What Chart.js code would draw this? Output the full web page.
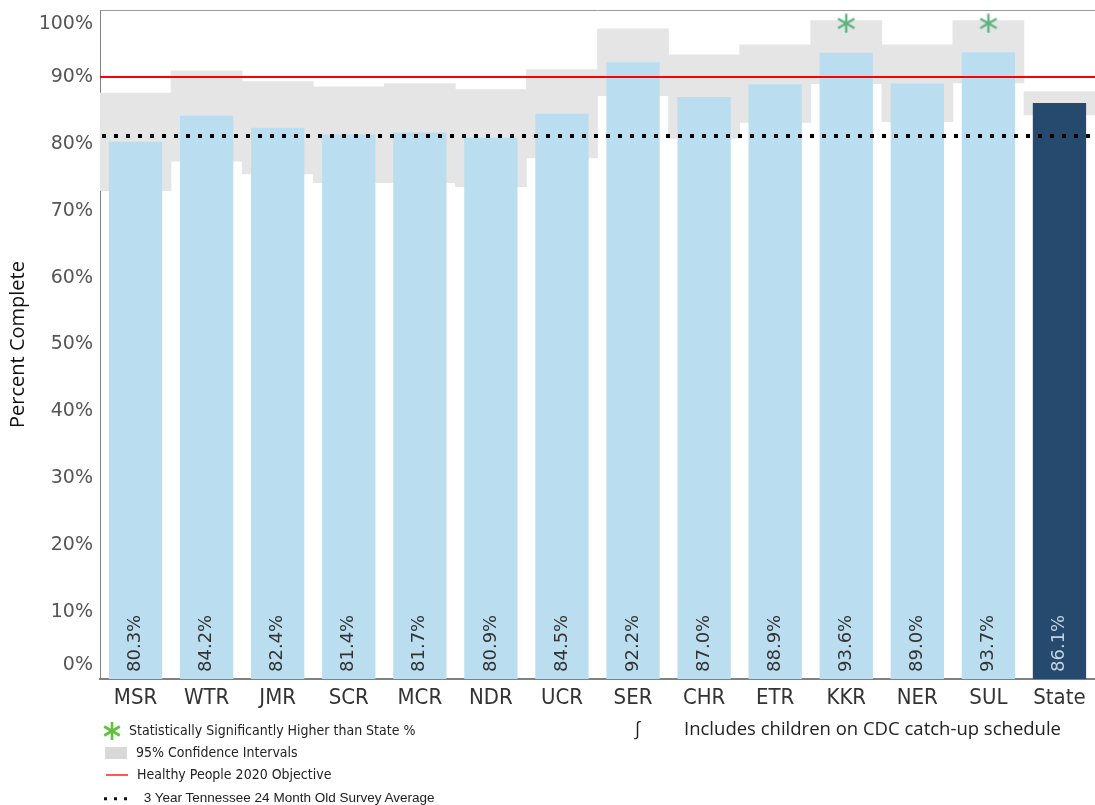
<!DOCTYPE html>
<html>
<head>
<meta charset="utf-8">
<script src="https://cdn.jsdelivr.net/npm/chart.js@4.4.1/dist/chart.umd.min.js"></script>
<style>
  html, body { margin: 0; padding: 0; background: #fff; overflow: hidden; }
  #wrap { position: relative; width: 1095px; height: 805px; overflow: hidden; }
  #c { position: absolute; left: 0; top: 0; }
  .leg { position: absolute; white-space: nowrap; line-height: 1; color: #222; transform: translateY(-50%);
         font-family: 'Liberation Sans Narrow', 'DejaVu Sans Condensed', sans-serif; font-size: 14px; }
  .note { position: absolute; top: 727px; transform: translateY(-50%); white-space: nowrap;
          font-family: 'Open Sans', sans-serif; font-size: 18.5px; color: #222; }
  .dot { display: inline-block; width: 3px; height: 3px; background: #111; margin-right: 7px; vertical-align: middle; }
</style>
</head>
<body>
<div id="wrap">
  <canvas id="c" width="1095" height="805"></canvas>

  <div class="leg" style="left:103px; top:731px;">
    <svg width="18" height="18" viewBox="0 0 18 18" style="vertical-align:middle">
      <g stroke="#5fc23a" stroke-width="2.6"><line x1="9" y1="0" x2="9" y2="18"/><line x1="1.2" y1="4.5" x2="16.8" y2="13.5"/><line x1="1.2" y1="13.5" x2="16.8" y2="4.5"/></g>
    </svg>
    <span style="margin-left:4px">Statistically Significantly Higher than State %</span>
  </div>
  <div class="leg" style="left:105px; top:752px;">
    <span style="display:inline-block;width:22px;height:12px;background:#d9d9d9;vertical-align:middle"></span>
    <span style="margin-left:5px">95% Confidence Intervals</span>
  </div>
  <div class="leg" style="left:106px; top:774px;">
    <span style="display:inline-block;width:22px;height:2px;background:#ff5a5a;vertical-align:middle"></span>
    <span style="margin-left:5px">Healthy People 2020 Objective</span>
  </div>
  <div class="leg" style="left:104px; top:798px; font-family:'Liberation Sans', Arial, sans-serif; font-size:13.5px;">
    <span class="dot"></span><span class="dot"></span><span class="dot"></span>
    <span style="margin-left:6px">3 Year Tennessee 24 Month Old Survey Average</span>
  </div>
  <div class="note" style="left:634px;">&#8747;</div>
  <div class="note" style="left:684px;">Includes children on CDC catch-up schedule</div>
</div>

<script>
// regions
const categories = ['MSR', 'WTR', 'JMR', 'SCR', 'MCR', 'NDR', 'UCR', 'SER', 'CHR', 'ETR', 'KKR', 'NER', 'SUL', 'State'];
const percentComplete = [80.3, 84.2, 82.4, 81.4, 81.7, 80.9, 84.5, 92.2, 87.0, 88.9, 93.6, 89.0, 93.7, 86.1];
// 95% CI bounds
const ciLow  = [73.0, 77.4, 75.5, 74.2, 74.2, 73.6, 77.9, 87.2, 80.8, 83.2, 89.0, 83.3, 89.1, 84.3];
const ciHigh = [87.6, 90.9, 89.3, 88.5, 89.0, 88.1, 91.1, 97.2, 93.3, 94.8, 98.4, 94.8, 98.4, 87.8];
// significance markers (asterisk above bar)
const sigMarks = [null, null, null, null, null, null, null, null, null, null, 98.0, null, 98.0, null];
const healthyPeople2020 = 90;
const surveyAverage = 81.2;
const yTicks = [0, 10, 20, 30, 40, 50, 60, 70, 80, 90, 100];

const barColors = categories.map(c => c === 'State' ? '#254a6e' : '#badef0');
const labelColors = categories.map(c => c === 'State' ? '#c3d2e2' : '#333333');

function asteriskImg(color, size, lw) {
    const cv = document.createElement('canvas');
    cv.width = cv.height = size;
    const g = cv.getContext('2d');
    g.strokeStyle = color;
    g.lineWidth = lw;
    const r = size / 2 - 0.5, m = size / 2;
    for (let k = 0; k < 3; k++) {
        const a = Math.PI / 2 + k * Math.PI / 3;
        g.beginPath();
        g.moveTo(m + r * Math.cos(a), m + r * Math.sin(a));
        g.lineTo(m - r * Math.cos(a), m - r * Math.sin(a));
        g.stroke();
    }
    return cv;
}

const overlay = {
    id: 'overlay',
    afterDatasetsDraw(chart) {
        const { ctx, chartArea: a, scales: { y } } = chart;
        ctx.save();
        // Healthy People 2020 objective
        const yr = y.getPixelForValue(healthyPeople2020);
        ctx.strokeStyle = '#ff0000';
        ctx.lineWidth = 2;
        ctx.beginPath(); ctx.moveTo(a.left, yr); ctx.lineTo(a.right, yr); ctx.stroke();
        // 3 year survey average
        const yd = Math.round(y.getPixelForValue(surveyAverage));
        ctx.strokeStyle = '#000';
        ctx.lineWidth = 4;
        ctx.setLineDash([4, 8]);
        ctx.beginPath(); ctx.moveTo(a.left + 2, yd); ctx.lineTo(a.right, yd); ctx.stroke();
        ctx.setLineDash([]);
        // value labels inside bars
        const meta = chart.getDatasetMeta(1);
        ctx.font = '18px "DejaVu Sans", Verdana, sans-serif';
        ctx.textAlign = 'left';
        ctx.textBaseline = 'middle';
        meta.data.forEach((bar, i) => {
            ctx.save();
            ctx.translate(bar.x, a.bottom - 7);
            ctx.rotate(-Math.PI / 2);
            ctx.fillStyle = labelColors[i];
            ctx.fillText(percentComplete[i].toFixed(1) + '%', 0, 0);
            ctx.restore();
        });
        ctx.restore();
    },
    afterDraw(chart) {
        const { ctx, chartArea: a, scales: { y } } = chart;
        ctx.save();
        // top frame line
        ctx.strokeStyle = '#999';
        ctx.lineWidth = 1;
        ctx.beginPath(); ctx.moveTo(a.left, a.top + 0.5); ctx.lineTo(a.right, a.top + 0.5); ctx.stroke();
        // y tick labels, kept inside the plot height like the original
        ctx.font = '19px "DejaVu Sans", Verdana, sans-serif';
        ctx.fillStyle = '#555';
        ctx.textAlign = 'right';
        ctx.textBaseline = 'middle';
        yTicks.forEach(v => {
            let py = y.getPixelForValue(v);
            py = Math.min(Math.max(py, a.top + 14), a.bottom - 14);
            ctx.fillText(v + '%', a.left - 7, py);
        });
        ctx.restore();
    }
};

new Chart(document.getElementById('c'), {
    type: 'bar',
    data: {
        labels: categories,
        datasets: [
            {
                type: 'line',
                label: 'Significant',
                data: sigMarks,
                showLine: false,
                pointStyle: asteriskImg('#5fb380', 20, 2.4),
                pointRadius: 10,
                order: 0
            },
            {
                type: 'bar',
                label: 'Percent Complete',
                data: percentComplete,
                backgroundColor: barColors,
                barPercentage: 0.75,
                categoryPercentage: 1,
                grouped: false,
                order: 1
            },
            {
                type: 'bar',
                label: '95% Confidence Intervals',
                data: ciLow.map((lo, i) => [lo, ciHigh[i]]),
                backgroundColor: '#e5e5e5',
                barPercentage: 1,
                categoryPercentage: 1,
                grouped: false,
                order: 2
            }
        ]
    },
    options: {
        responsive: false,
        animation: false,
        layout: { autoPadding: false, padding: { top: 10, left: 0, right: 0, bottom: 0 } },
        plugins: { legend: { display: false }, tooltip: { enabled: false } },
        scales: {
            x: {
                grid: { display: false, drawTicks: false },
                border: { display: true, color: '#808080', width: 2 },
                ticks: {
                    padding: 6,
                    color: '#333',
                    font: { family: "'Liberation Sans Narrow', 'DejaVu Sans Condensed', sans-serif", size: 22 }
                },
                afterFit: s => { s.height = 126; s.paddingLeft = 0; s.paddingRight = 0; }
            },
            y: {
                min: 0,
                max: 100,
                grid: { display: false, drawTicks: false },
                border: { display: true, color: '#808080', width: 1 },
                ticks: { display: false },
                title: {
                    display: true,
                    text: 'Percent Complete',
                    color: '#111',
                    padding: { top: 6, bottom: 0 },
                    font: { family: "'Open Sans', sans-serif", size: 20 }
                },
                afterFit: s => { s.width = 100; s.paddingTop = 0; s.paddingBottom = 0; }
            }
        }
    },
    plugins: [overlay]
});
</script>
</body>
</html>
